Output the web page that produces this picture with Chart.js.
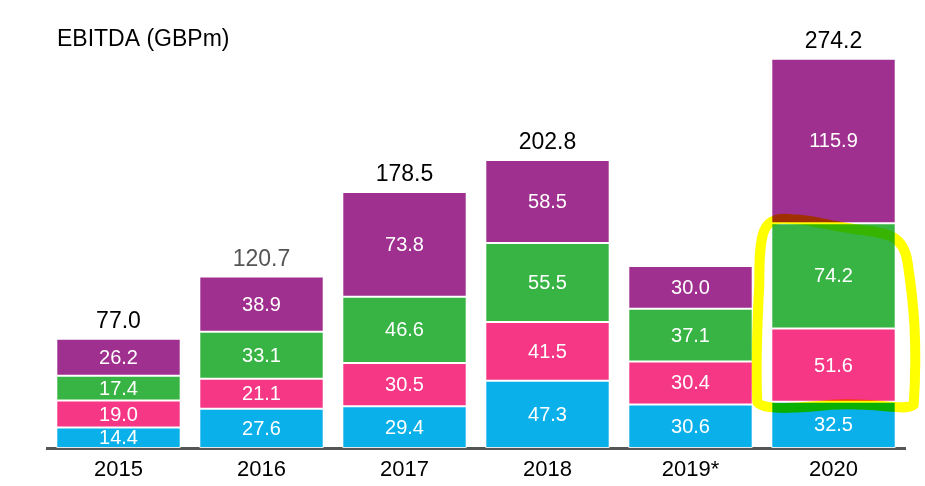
<!DOCTYPE html>
<html>
<head>
<meta charset="utf-8">
<script src="https://cdn.jsdelivr.net/npm/chart.js@4"></script>
<style>
  body { margin: 0; background: #fff; }
  #wrap { width: 925px; height: 486px; position: relative; }
</style>
</head>
<body>
<div id="wrap"><canvas id="ebitdaChart"></canvas></div>
<script>
const years = ["2015", "2016", "2017", "2018", "2019*", "2020"];
const blueVals = [14.4, 27.6, 29.4, 47.3, 30.6, 32.5];
const pinkVals = [19.0, 21.1, 30.5, 41.5, 30.4, 51.6];
const greenVals = [17.4, 33.1, 46.6, 55.5, 37.1, 74.2];
const purpleVals = [26.2, 38.9, 73.8, 58.5, 30.0, 115.9];
const totalLabels = ["77.0", "120.7", "178.5", "202.8", "", "274.2"];

const FONT = "'Liberation Sans', Arial, sans-serif";

// white numbers inside each segment + totals above each stack
const labelsPlugin = {
  id: "labels",
  afterDatasetsDraw(chart) {
    const ctx = chart.ctx;
    ctx.save();
    ctx.textAlign = "center";
    ctx.textBaseline = "middle";
    ctx.font = "20px " + FONT;
    ctx.fillStyle = "#fff";
    chart.data.datasets.forEach((ds, i) => {
      chart.getDatasetMeta(i).data.forEach((bar, j) => {
        const p = bar.getProps(["x", "y", "base"], true);
        ctx.fillText(ds.data[j].toFixed(1), p.x, (p.y + p.base) / 2 + 1);
      });
    });
    const top = chart.getDatasetMeta(chart.data.datasets.length - 1).data;
    ctx.font = "23px " + FONT;
    ctx.textBaseline = "alphabetic";
    top.forEach((bar, j) => {
      if (!totalLabels[j]) return;
      const p = bar.getProps(["x", "y"], true);
      ctx.fillStyle = j === 1 ? "#555" : "#000";
      ctx.fillText(totalLabels[j], p.x, p.y - 11);
    });
    ctx.restore();
  }
};

// title + yellow marker around 2020 green/pink
const decorPlugin = {
  id: "decor",
  afterDraw(chart) {
    const ctx = chart.ctx;
    ctx.save();
    ctx.font = "23px " + FONT;
    ctx.fillStyle = "#000";
    ctx.textBaseline = "alphabetic";
    ctx.fillText("EBITDA (GBPm)", 57, 46);

    const last = years.length - 1;
    const g = chart.getDatasetMeta(2).data[last].getProps(["x", "y", "width"], true);
    const pk = chart.getDatasetMeta(1).data[last].getProps(["base"], true);
    const l = g.x - g.width / 2, r = g.x + g.width / 2;
    const t = g.y, b = pk.base;
    ctx.globalCompositeOperation = "multiply";
    ctx.strokeStyle = "#ffff00";
    ctx.lineWidth = 10;
    ctx.lineJoin = "round";
    ctx.lineCap = "round";
    ctx.beginPath();
    ctx.moveTo(l + 20, t - 4);
    ctx.bezierCurveTo(l - 10, t - 8, l - 12, t + 10, l - 12, t + 60);
    ctx.bezierCurveTo(l - 14, t + 100, l - 16, b - 40, l - 14, b);
    ctx.bezierCurveTo(l - 10, b + 10, l + 40, b + 5, l + 60, b + 3);
    ctx.bezierCurveTo(r - 20, b, r + 10, b + 10, r + 18, b + 3);
    ctx.bezierCurveTo(r + 22, b - 60, r + 18, t + 80, r + 12, t + 40);
    ctx.bezierCurveTo(r + 8, t + 10, r - 10, t + 10, r - 40, t + 6);
    ctx.bezierCurveTo(r - 80, t, l + 40, t - 4, l + 20, t - 4);
    ctx.stroke();
    ctx.restore();
  }
};

function segment(label, data, color) {
  return {
    label: label,
    data: data,
    backgroundColor: color,
    borderColor: "rgba(255,255,255,0.85)",
    borderWidth: 1,
    borderSkipped: false,
    categoryPercentage: 0.87,
    barPercentage: 1.0
  };
}

new Chart(document.getElementById("ebitdaChart"), {
  type: "bar",
  data: {
    labels: years,
    datasets: [
      segment("Blue", blueVals, "#0ab0ea"),
      segment("Pink", pinkVals, "#f53786"),
      segment("Green", greenVals, "#37b443"),
      segment("Purple", purpleVals, "#a0308f")
    ]
  },
  options: {
    responsive: true,
    maintainAspectRatio: false,
    animation: false,
    layout: { padding: { left: 47, right: 20, top: 22, bottom: -6 } },
    scales: {
      x: {
        stacked: true,
        grid: { display: false, drawTicks: false },
        border: { display: true, color: "#555", width: 3 },
        ticks: { color: "#000", font: { size: 22, family: FONT, lineHeight: 1 }, padding: 11 }
      },
      y: {
        stacked: true,
        display: false,
        min: 0,
        max: 300
      }
    },
    plugins: {
      legend: { display: false },
      tooltip: { enabled: false }
    }
  },
  plugins: [labelsPlugin, decorPlugin]
});
</script>
</body>
</html>
